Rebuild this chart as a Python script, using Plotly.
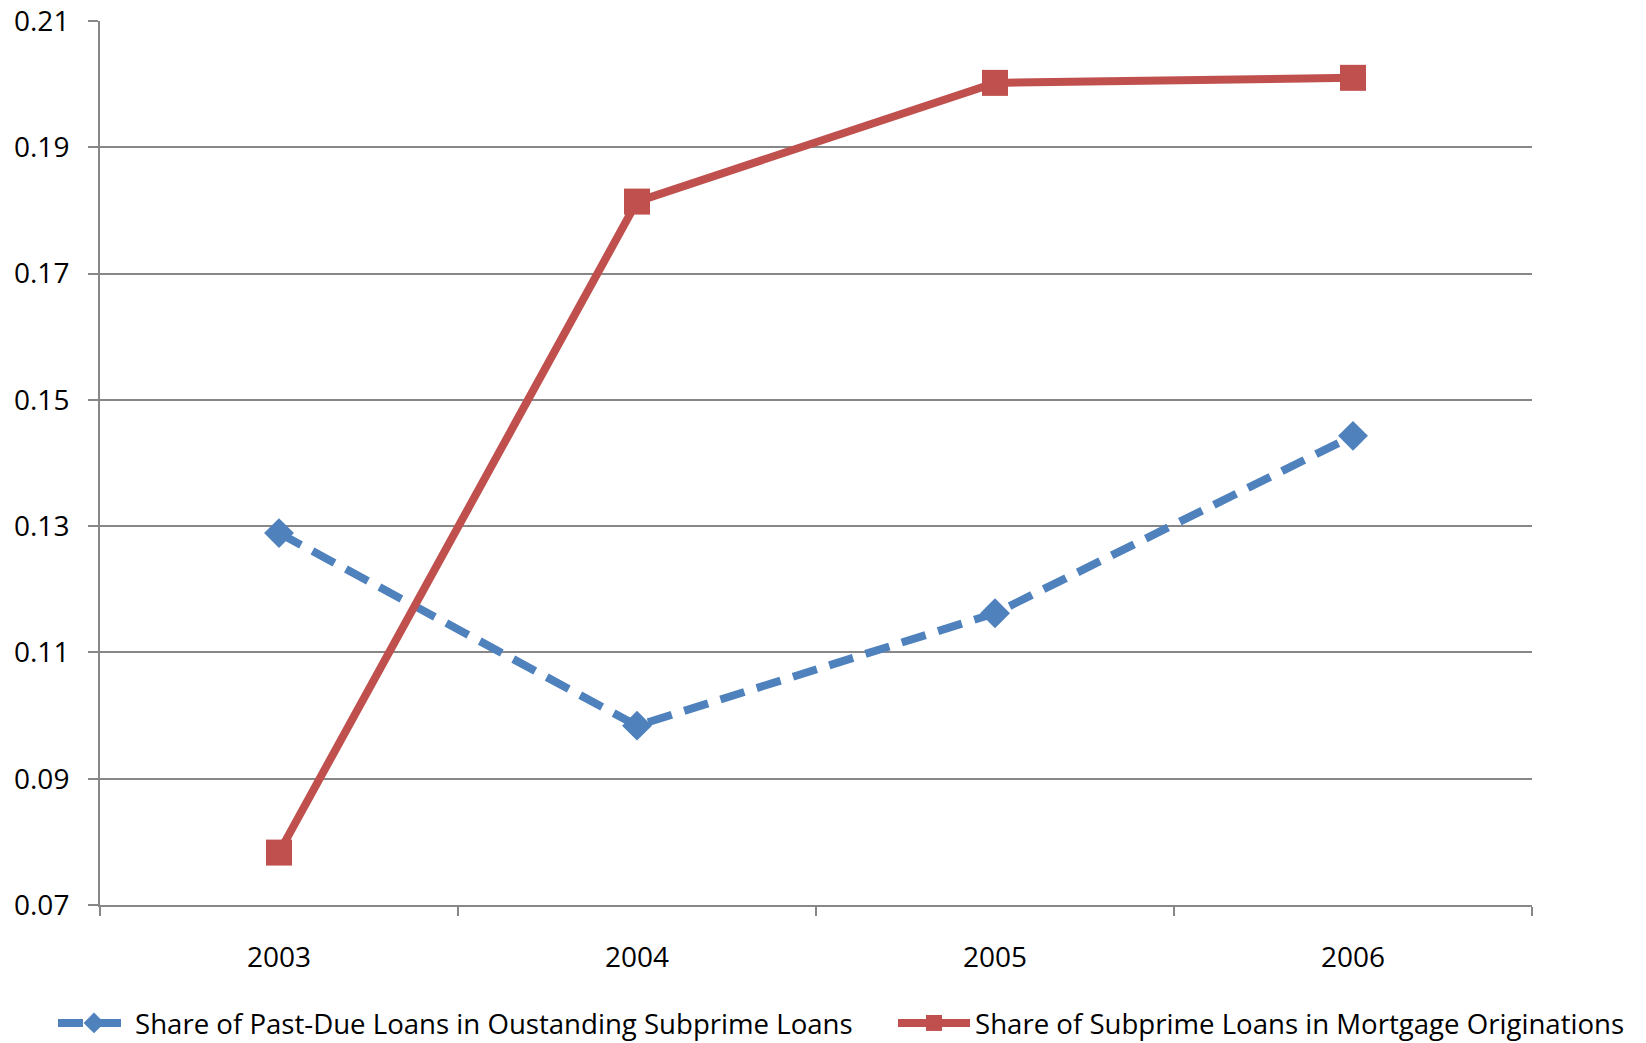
import plotly.graph_objects as go

years = ["2003", "2004", "2005", "2006"]
past_due_share = [0.1289, 0.0984, 0.1162, 0.1443]
subprime_share = [0.0783, 0.1814, 0.2002, 0.2010]
y_ticks = [0.07, 0.09, 0.11, 0.13, 0.15, 0.17, 0.19, 0.21]

BLUE = "#4F81BD"
RED = "#C0504D"
GRID = "#878787"
FONT = "Open Sans"

fig = go.Figure()
fig.add_trace(go.Scatter(
    x=years, y=past_due_share, mode="lines+markers",
    name="Share of Past-Due Loans in Oustanding Subprime Loans",
    line=dict(color=BLUE, width=8, dash="25px,13px"),
    marker=dict(symbol="diamond", size=23, color=BLUE),
    legend="legend",
))
fig.add_trace(go.Scatter(
    x=years, y=subprime_share, mode="lines+markers",
    name="Share of Subprime Loans in Mortgage Originations",
    line=dict(color=RED, width=8),
    marker=dict(symbol="square", size=26, color=RED),
    legend="legend2",
))

legend_style = dict(
    orientation="h", xref="container", xanchor="left",
    yref="container", y=(1043 - 1023) / 1043, yanchor="middle",
    font=dict(family=FONT, size=27.6, color="black"),
    itemwidth=72, bgcolor="rgba(0,0,0,0)",
)

fig.update_layout(
    width=1646, height=1043,
    paper_bgcolor="white", plot_bgcolor="white",
    margin=dict(l=100, r=114, t=21, b=138, autoexpand=False),
    font=dict(family=FONT, size=28, color="black"),
    showlegend=True,
    legend=dict(legend_style, x=53 / 1646),
    legend2=dict(legend_style, x=893 / 1646),
    xaxis=dict(
        type="category", showgrid=False, showline=True, linecolor=GRID, linewidth=2,
        ticks="outside", tickson="boundaries", ticklen=9, tickwidth=2, tickcolor=GRID,
        ticklabelstandoff=26, tickfont=dict(family=FONT, size=28),
        range=[-0.5, 3.5], zeroline=False,
    ),
    yaxis=dict(
        range=[0.07, 0.21], tickvals=y_ticks, ticktext=[f"{v:.2f}" for v in y_ticks],
        showgrid=True, gridcolor=GRID, gridwidth=2,
        showline=True, linecolor=GRID, linewidth=2,
        ticks="outside", ticklen=10, tickwidth=2, tickcolor=GRID,
        ticklabelstandoff=13, tickfont=dict(family=FONT, size=28), zeroline=False,
    ),
)

fig.write_html("out.html")
